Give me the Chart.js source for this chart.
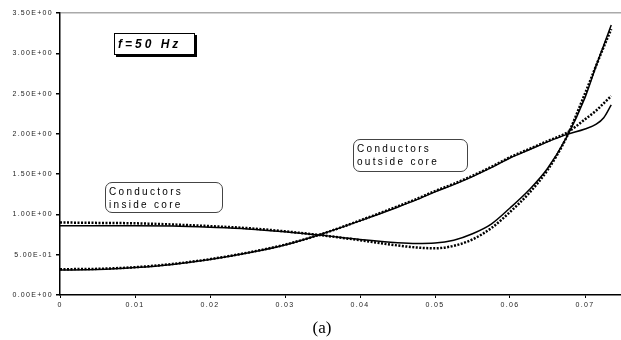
<!DOCTYPE html>
<html>
<head>
<meta charset="utf-8">
<script src="https://cdn.jsdelivr.net/npm/chart.js@4"></script>
<style>
  body{ margin:0; background:#fff; }
  #wrap{ position:relative; width:621px; height:340px; }
  .note{ position:absolute; font-family:"Liberation Sans", Arial, sans-serif; color:#000; box-sizing:border-box; }
  #freq{ left:114px; top:33px; width:81px; height:22px; border:1px solid #000; box-shadow:2px 2px 0 #000;
         font-weight:bold; font-style:italic; font-size:12px; letter-spacing:3px; line-height:20px; padding-left:3px; }
  .cond{ border:1px solid #444; border-radius:7px; font-size:10px; letter-spacing:2.3px; line-height:13px; padding:2px 0 0 3px; }
  #inside{ left:105px; top:182px; width:118px; height:31px; }
  #outside{ left:353px; top:139px; width:115px; height:33px; }
  #cap{ position:absolute; left:300px; top:318px; width:44px; text-align:center; font-family:"Liberation Serif", "Times New Roman", serif; font-size:17px; }
</style>
</head>
<body>
<div id="wrap">
  <canvas id="c" width="621" height="340"></canvas>
  <div class="note" id="freq">f=50 Hz</div>
  <div class="note cond" id="inside">Conductors<br>inside core</div>
  <div class="note cond" id="outside">Conductors<br>outside core</div>
  <div id="cap">(a)</div>
</div>
<script>
// data
const xTicks      = [0, 0.01, 0.02, 0.03, 0.04, 0.05, 0.06, 0.07];
const xVals       = [0, 0.005, 0.01, 0.015, 0.02, 0.025, 0.03, 0.035, 0.04, 0.045, 0.0475, 0.05, 0.0525, 0.055, 0.0575, 0.06, 0.0625, 0.065, 0.0675, 0.07, 0.0715, 0.0725, 0.0735];
const insideFit   = [0.86, 0.86, 0.86, 0.855, 0.84, 0.82, 0.785, 0.74, 0.69, 0.65, 0.64, 0.645, 0.68, 0.76, 0.88, 1.08, 1.30, 1.57, 1.95, 2.45, 2.85, 3.1, 3.35];
const insideMeas  = [0.90, 0.895, 0.89, 0.875, 0.855, 0.83, 0.79, 0.74, 0.68, 0.615, 0.59, 0.58, 0.61, 0.69, 0.83, 1.03, 1.26, 1.55, 1.95, 2.5, 2.85, 3.08, 3.3];
const outsideFit  = [0.31, 0.315, 0.34, 0.38, 0.44, 0.52, 0.62, 0.76, 0.92, 1.09, 1.18, 1.28, 1.37, 1.47, 1.58, 1.70, 1.80, 1.90, 1.99, 2.06, 2.12, 2.2, 2.36];
const outsideMeas = [0.32, 0.325, 0.345, 0.385, 0.445, 0.525, 0.625, 0.76, 0.925, 1.1, 1.19, 1.29, 1.38, 1.48, 1.59, 1.71, 1.81, 1.91, 2.01, 2.18, 2.29, 2.38, 2.47];

const pts = arr => xVals.map((x,i) => ({ x, y: arr[i] }));
const solid  = { borderColor:'#000', borderWidth:1.5, pointRadius:0, fill:false, cubicInterpolationMode:'monotone' };
const dotted = { borderColor:'#000', borderWidth:2.5, borderDash:[2,1.5], pointRadius:0, fill:false, cubicInterpolationMode:'monotone' };

// sci labels like 3.50E+00
const sci = v => {
  if (v === 0) return '0.00E+00';
  const e = Math.floor(Math.log10(Math.abs(v)) + 1e-9);
  const m = (v / Math.pow(10, e)).toFixed(2);
  return m + 'E' + (e < 0 ? '-' : '+') + String(Math.abs(e)).padStart(2,'0');
};

const spacing = {
  id:'spacing',
  beforeUpdate(c){ c.ctx.letterSpacing = '1.3px'; },
  beforeDraw(c){ c.ctx.letterSpacing = '1.3px'; }
};
const tickFont = { family:'"Liberation Sans", Arial', size:7 };

new Chart(document.getElementById('c'), {
  type:'line',
  data:{ datasets:[
    { label:'inside fit', data:pts(insideFit), ...solid },
    { label:'inside measured', data:pts(insideMeas), ...dotted },
    { label:'outside fit', data:pts(outsideFit), ...solid },
    { label:'outside measured', data:pts(outsideMeas), ...dotted }
  ]},
  options:{
    responsive:false, animation:false,
    layout:{ padding:{ left:0, right:0, top:13, bottom:25 } },
    plugins:{ legend:{ display:false }, tooltip:{ enabled:false } },
    scales:{
      x:{ type:'linear', min:0, max:0.0748,
          afterBuildTicks: s => { s.ticks = xTicks.map(v => ({ value:v })); },
          afterFit: s => { s.height = 20; },
          border:{ color:'#000', width:1.5 },
          grid:{ drawOnChartArea:false, tickLength:3, tickColor:'#000' },
          ticks:{ color:'#222', font:tickFont, padding:3,
                  maxRotation:0, callback: v => v === 0 ? '0' : v.toFixed(2) } },
      y:{ min:0, max:3.5,
          afterFit: s => { s.width = 60; },
          border:{ color:'#000', width:1.5 },
          grid:{ color: c => c.tick && c.tick.value === 3.5 ? '#aaa' : 'rgba(0,0,0,0)', lineWidth:1.5,
                 tickLength:4, tickColor:'#000' },
          ticks:{ stepSize:0.5, color:'#222', font:tickFont, padding:3,
                  callback: v => sci(v) } }
    }
  },
  plugins:[spacing]
});
</script>
</body>
</html>
